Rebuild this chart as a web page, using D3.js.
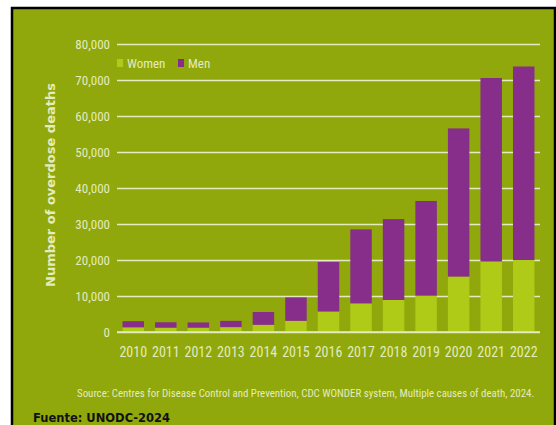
<!DOCTYPE html>
<html>
<head>
<meta charset="utf-8">
<script src="https://cdn.jsdelivr.net/npm/d3@7"></script>
<style>
  body { margin: 0; background: #fff; }
  svg text { font-family: "Liberation Sans Narrow", "Roboto Condensed", "Liberation Sans", sans-serif; }
</style>
</head>
<body>
<div id="chart"></div>
<script>
var years = ["2010", "2011", "2012", "2013", "2014", "2015", "2016", "2017", "2018", "2019", "2020", "2021", "2022"]
var women = [1300, 1200, 1200, 1350, 2000, 3100, 5700, 7950, 8900, 10100, 15400, 19600, 20000]
var men = [1700, 1500, 1450, 1750, 3550, 6500, 13750, 20550, 22450, 26300, 41150, 50950, 53750]
var yTicks = [0, 10000, 20000, 30000, 40000, 50000, 60000, 70000, 80000]
var seriesNames = ["Women", "Men"]

var W = 556, H = 425
var bg = "#90a80b", lime = "#afcb18", purple = "#872d8a", pale = "#e3ebbf"
var margin = {top: 44, right: 16, bottom: 93, left: 117}

var svg = d3.select("#chart").append("svg")
    .attr("width", W)
    .attr("height", H)

// green panel with black frame
svg.append("rect")
    .attr("x", 12).attr("y", 8)
    .attr("width", W - 13).attr("height", H)
    .style("fill", bg)
    .style("stroke", "#000")
    .style("stroke-width", 2.5)

var g = svg.append("g")
    .attr("transform", "translate(" + margin.left + "," + margin.top + ")")

var width = W - margin.left - margin.right   // 423
var height = 288

var x = d3.scaleBand().domain(years).range([0, width]).paddingInner(0.34).paddingOuter(0.17)
var y = d3.scaleLinear().domain([0, 80000]).range([height, 0])

var yAxis = g.append("g")
    .call(d3.axisLeft(y).tickValues(yTicks).tickSize(-width).tickPadding(7)
        .tickFormat(d3.format(",")))
yAxis.select(".domain").remove()
yAxis.selectAll(".tick line").style("stroke", pale).style("stroke-width", 1.5)
yAxis.selectAll(".tick text").style("fill", pale).style("font-size", "13px")
    .style("font-family", "'Liberation Sans Narrow', 'Roboto Condensed', sans-serif")

var table = years.map(function(d, i) { return {year: d, Women: women[i], Men: men[i]} })
var stacked = d3.stack().keys(seriesNames)(table)

g.selectAll(".series")
    .data(stacked)
    .enter()
    .append("g")
    .attr("class", "series")
    .style("fill", function(d) { return d.key == "Women" ? lime : purple })
    .selectAll("rect")
    .data(function(d) { return d })
    .enter()
    .append("rect")
    .attr("x", function(d) { return x(d.data.year) })
    .attr("y", function(d) { return y(d[1]) })
    .attr("width", x.bandwidth())
    .attr("height", function(d) { return y(d[0]) - y(d[1]) })

// redraw the zero line over the bars
g.append("line")
    .attr("x1", 0).attr("x2", width)
    .attr("y1", y(0)).attr("y2", y(0))
    .style("stroke", pale).style("stroke-width", 1.5)

var xAxis = g.append("g")
    .attr("transform", "translate(0," + height + ")")
    .call(d3.axisBottom(x).tickSize(0).tickPadding(15))
xAxis.select(".domain").remove()
xAxis.selectAll(".tick text").style("fill", pale).style("font-size", "14px")
    .style("font-family", "'Liberation Sans Narrow', 'Roboto Condensed', sans-serif")

// legend
var legend = g.selectAll(".legend")
    .data(seriesNames)
    .enter()
    .append("g")
    .attr("class", "legend")
    .attr("transform", function(d, i) { return "translate(" + (i * 61) + ",15)" })
legend.append("rect")
    .attr("width", 6).attr("height", 8)
    .style("fill", function(d) { return d == "Women" ? lime : purple })
legend.append("text")
    .attr("x", 10).attr("y", 8.5)
    .style("fill", pale).style("font-size", "13px")
    .text(function(d) { return d })

// y title
svg.append("text")
    .attr("transform", "translate(55,185) rotate(-90)")
    .attr("text-anchor", "middle")
    .style("font-family", "'DejaVu Sans', sans-serif")
    .style("font-weight", "bold")
    .style("font-size", "13px")
    .style("fill", pale)
    .text("Number of overdose deaths")

svg.append("text")
    .attr("x", 77).attr("y", 397)
    .style("font-size", "10.9px")
    .style("fill", pale)
    .text("Source: Centres for Disease Control and Prevention, CDC WONDER system, Multiple causes of death, 2024.")

svg.append("text")
    .attr("x", 33).attr("y", 422)
    .style("font-family", "'DejaVu Sans', sans-serif")
    .style("font-weight", "bold")
    .style("font-size", "11.5px")
    .style("fill", "#111")
    .text("Fuente: UNODC-2024")
</script>
</body>
</html>
